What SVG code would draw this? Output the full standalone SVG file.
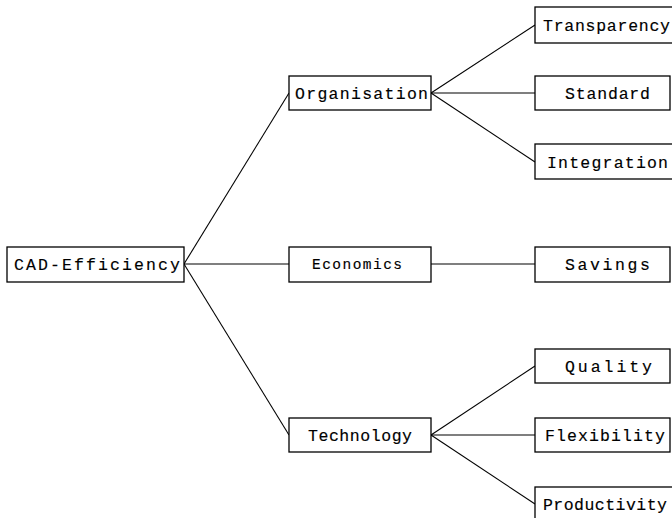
<svg xmlns="http://www.w3.org/2000/svg" width="672" height="518" viewBox="0 0 672 518">
  <style>
    .box { fill: #ffffff; stroke: #000000; stroke-width: 1.3; }
    .lbl { font-family: "Liberation Mono", "DejaVu Sans Mono", monospace; font-size: 16.5px; fill: #000000; stroke: #000000; stroke-width: 0.15; }
    .sm { font-size: 14.5px; }
    .edge { stroke: #000000; stroke-width: 1.1; fill: none; }
  </style>
  <rect width="672" height="518" fill="#ffffff"/>

  <!-- connectors -->
  <g id="connectors">
    <line class="edge" x1="184" y1="264" x2="289" y2="93"/>
    <line class="edge" x1="184" y1="264" x2="289" y2="264"/>
    <line class="edge" x1="184" y1="264" x2="289" y2="435"/>
    <line class="edge" x1="431" y1="93" x2="535" y2="25"/>
    <line class="edge" x1="431" y1="93" x2="535" y2="93"/>
    <line class="edge" x1="431" y1="93" x2="535" y2="162"/>
    <line class="edge" x1="431" y1="264" x2="535" y2="264"/>
    <line class="edge" x1="431" y1="435" x2="535" y2="366"/>
    <line class="edge" x1="431" y1="435" x2="535" y2="435"/>
    <line class="edge" x1="431" y1="435" x2="535" y2="504"/>
  </g>

  <!-- root -->
  <g id="cad-efficiency">
    <rect class="box" x="7" y="247" width="177" height="35"/>
    <text class="lbl" x="14" y="270" textLength="166" lengthAdjust="spacing">CAD-Efficiency</text>
  </g>

  <!-- second level -->
  <g id="organisation">
    <rect class="box" x="289" y="76" width="142" height="34"/>
    <text class="lbl" x="295" y="99" textLength="133" lengthAdjust="spacing">Organisation</text>
  </g>
  <g id="economics">
    <rect class="box" x="289" y="247" width="142" height="35"/>
    <text class="lbl sm" x="312" y="269" textLength="90" lengthAdjust="spacing">Economics</text>
  </g>
  <g id="technology">
    <rect class="box" x="289" y="418" width="142" height="34"/>
    <text class="lbl" x="308" y="441" textLength="104" lengthAdjust="spacing">Technology</text>
  </g>

  <!-- third level -->
  <g id="transparency">
    <rect class="box" x="535" y="7" width="140" height="36"/>
    <text class="lbl" x="543" y="31" textLength="127" lengthAdjust="spacing">Transparency</text>
  </g>
  <g id="standard">
    <rect class="box" x="535" y="76" width="135" height="34"/>
    <text class="lbl" x="565" y="99" textLength="85" lengthAdjust="spacing">Standard</text>
  </g>
  <g id="integration">
    <rect class="box" x="535" y="144" width="140" height="35"/>
    <text class="lbl" x="547" y="168" textLength="121" lengthAdjust="spacing">Integration</text>
  </g>
  <g id="savings">
    <rect class="box" x="535" y="247" width="135" height="35"/>
    <text class="lbl" x="565" y="270" textLength="85" lengthAdjust="spacing">Savings</text>
  </g>
  <g id="quality">
    <rect class="box" x="535" y="349" width="135" height="34"/>
    <text class="lbl" x="565" y="372" textLength="87" lengthAdjust="spacing">Quality</text>
  </g>
  <g id="flexibility">
    <rect class="box" x="535" y="418" width="135" height="34"/>
    <text class="lbl" x="545" y="441" textLength="120" lengthAdjust="spacing">Flexibility</text>
  </g>
  <g id="productivity">
    <rect class="box" x="535" y="487" width="140" height="40"/>
    <text class="lbl" x="543" y="510" textLength="124" lengthAdjust="spacing">Productivity</text>
  </g>
</svg>
